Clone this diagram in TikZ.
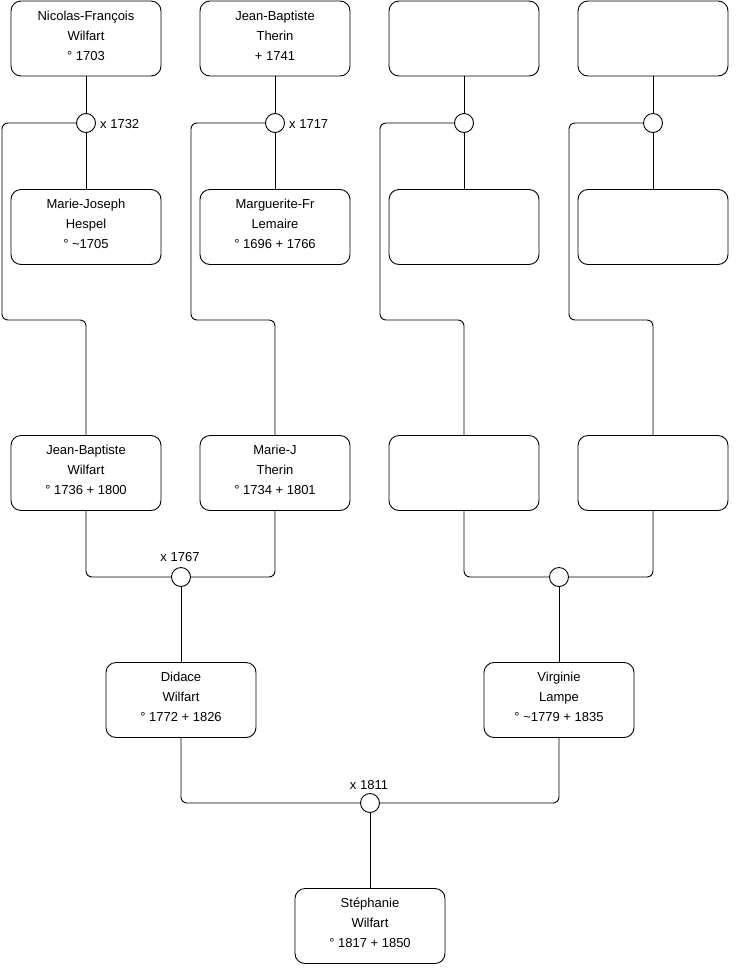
\documentclass[tikz,border=0pt]{standalone}
\usepackage{fontspec}
\setmainfont{Liberation Sans}
\begin{document}
\begin{tikzpicture}[x=1pt,y=-1pt,
  txt/.style={align=center, font=\fontsize{13}{20}\selectfont, inner sep=0pt, yshift=3pt},
  person/.style={draw, line width=0.9pt, rounded corners=10pt, minimum width=150pt, minimum height=75pt,
    inner sep=0pt, label={[txt]center:#1}},
  person/.default={},
  union/.style={draw, line width=0.9pt, circle, minimum size=19pt, inner sep=0pt, fill=white},
  link/.style={line width=0.9pt, rounded corners=6pt},
  lbl/.style={font=\fontsize{13}{15}\selectfont, inner sep=0pt}]
\useasboundingbox (0,0) rectangle (740,975);
% row 1
\node[person={Nicolas-François\\Wilfart\\° 1703}] (a1) at (86,38.5) {};
\node[person={Jean-Baptiste\\Therin\\+ 1741}] (a2) at (275,38.5) {};
\node[person] (a3) at (464,38.5) {};
\node[person] (a4) at (653,38.5) {};
% row 2
\node[person={Marie-Joseph\\Hespel\\° \textasciitilde 1705}] (b1) at (86,227) {};
\node[person={Marguerite-Fr\\Lemaire\\° 1696 + 1766}] (b2) at (275,227) {};
\node[person] (b3) at (464,227) {};
\node[person] (b4) at (653,227) {};
% row 3
\node[person={Jean-Baptiste\\Wilfart\\° 1736 + 1800}] (c1) at (86,473) {};
\node[person={Marie-J\\Therin\\° 1734 + 1801}] (c2) at (275,473) {};
\node[person] (c3) at (464,473) {};
\node[person] (c4) at (653,473) {};
% row 4
\node[person={Didace\\Wilfart\\° 1772 + 1826}] (d1) at (181,700) {};
\node[person={Virginie\\Lampe\\° \textasciitilde 1779 + 1835}] (d2) at (559,700) {};
% row 5
\node[person={Stéphanie\\Wilfart\\° 1817 + 1850}] (e1) at (370,926) {};
% unions
\node[union] (m1) at (86,123) {};
\node[union] (m2) at (275,123) {};
\node[union] (m3) at (464,123) {};
\node[union] (m4) at (653,123) {};
\node[union] (m5) at (181,577) {};
\node[union] (m6) at (559,577) {};
\node[union] (m7) at (370,803) {};
% labels
\node[lbl, anchor=west] (l1) at (100,124) {x 1732};
\node[lbl, anchor=west] (l2) at (289,124) {x 1717};
\node[lbl] (l5) at (180,557) {x 1767};
\node[lbl] (l7) at (369,785) {x 1811};
% couple links top
\foreach \i in {1,2,3,4}{
  \draw[link] (a\i.south) -- (m\i.north);
  \draw[link] (m\i.south) -- (b\i.north);
}
\draw[link] (m1.west) -| (2,320) -| (c1.north);
\draw[link] (m2.west) -| (191,320) -| (c2.north);
\draw[link] (m3.west) -| (380,320) -| (c3.north);
\draw[link] (m4.west) -| (569,320) -| (c4.north);
% row 3 unions
\draw[link] (c1.south) |- (m5.west);
\draw[link] (c2.south) |- (m5.east);
\draw[link] (m5.south) -- (d1.north);
\draw[link] (c3.south) |- (m6.west);
\draw[link] (c4.south) |- (m6.east);
\draw[link] (m6.south) -- (d2.north);
% row 4 union
\draw[link] (d1.south) |- (m7.west);
\draw[link] (d2.south) |- (m7.east);
\draw[link] (m7.south) -- (e1.north);
\end{tikzpicture}
\end{document}
